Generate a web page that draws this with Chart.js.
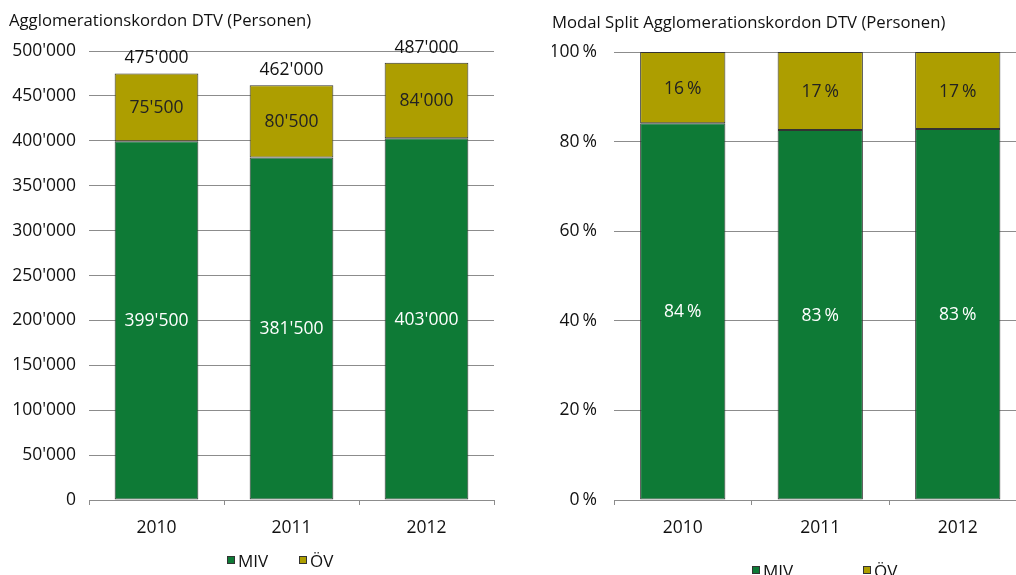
<!DOCTYPE html>
<html><head><meta charset="utf-8">
<script src="https://cdn.jsdelivr.net/npm/chart.js@4.4.1/dist/chart.umd.min.js"></script>
<style>
html,body{margin:0;padding:0;background:#fff;overflow:hidden;width:1016px;height:575px;position:relative;}
#c1{position:absolute;left:0;top:0;}
#c2{position:absolute;left:540px;top:0;}
</style></head><body>
<canvas id="c1" width="540" height="575"></canvas>
<canvas id="c2" width="560" height="575"></canvas>
<script>
// ---- data ----
const years = ['2010', '2011', '2012'];
const seriesNames = ['MIV', 'ÖV'];
const mivPersons = [399500, 381500, 403000];
const oevPersons = [75500, 80500, 84000];
const totalPersons = [475000, 462000, 487000];
const mivShare = [84.1, 82.6, 82.8];
const oevShare = [15.9, 17.4, 17.2];
const mivShareText = ['84', '83', '83'];
const oevShareText = ['16', '17', '17'];
const personTicks = [0, 50000, 100000, 150000, 200000, 250000, 300000, 350000, 400000, 450000, 500000];
const shareTicks = [0, 20, 40, 60, 80, 100];

// ---- styles ----
const FONT = "'Open Sans', 'Noto Sans', sans-serif";
const GREEN = '#0e7a36';
const OLIVE = '#ad9e00';
const EDGE = '#333333';
const GRID = '#8c8c8c';

function fmtThousands(v) {
  const s = String(Math.round(v));
  return s.replace(/\B(?=(\d{3})+(?!\d))/g, "'");
}
const pct = t => t + '\u2009%';

const valueLabels = {
  id: 'valueLabels',
  afterDatasetsDraw(chart, args, opts) {
    const ctx = chart.ctx;
    ctx.save();
    ctx.font = opts.size + 'px ' + FONT;
    ctx.textAlign = 'center';
    ctx.textBaseline = 'middle';
    chart.data.datasets.forEach((ds, di) => {
      const meta = chart.getDatasetMeta(di);
      meta.data.forEach((bar, i) => {
        ctx.fillStyle = ds.labelColor;
        ctx.fillText(ds.labelTexts[i], bar.x, (bar.y + bar.base) / 2 + (opts.dy || 0));
      });
    });
    if (opts.totals) {
      const last = chart.getDatasetMeta(chart.data.datasets.length - 1);
      ctx.fillStyle = '#111';
      last.data.forEach((bar, i) => {
        ctx.fillText(opts.totals[i], bar.x, bar.y - opts.totalOffset);
      });
    }
    ctx.restore();
  }
};

const boxLegend = {
  id: 'boxLegend',
  afterDraw(chart, args, opts) {
    const ctx = chart.ctx;
    ctx.save();
    ctx.font = opts.size + 'px ' + FONT;
    ctx.textAlign = 'left';
    ctx.textBaseline = 'middle';
    chart.data.datasets.forEach((ds, i) => {
      const x = opts.x[i], y = opts.y;
      ctx.fillStyle = ds.backgroundColor;
      ctx.fillRect(x, y - opts.box / 2, opts.box, opts.box);
      ctx.strokeStyle = EDGE;
      ctx.lineWidth = 1;
      ctx.strokeRect(x + 0.5, y - opts.box / 2 + 0.5, opts.box - 1, opts.box - 1);
      ctx.fillStyle = '#111';
      ctx.fillText(ds.label, x + opts.box + 3, y + 2);
    });
    ctx.restore();
  }
};

function baseOptions(cfg) {
  return {
    responsive: false,
    animation: false,
    devicePixelRatio: 1,
    layout: { padding: cfg.padding },
    plugins: {
      legend: { display: false },
      tooltip: { enabled: false },
      title: {
        display: true, text: cfg.title, align: 'start', color: '#111',
        font: { family: FONT, size: 16.7, weight: 'normal' },
        padding: cfg.titlePadding
      },
      valueLabels: cfg.valueLabels,
      boxLegend: cfg.legend
    },
    scales: {
      x: {
        stacked: true,
        afterFit: s => { s.height = 40; },
        grid: { offset: true, drawOnChartArea: false, drawTicks: true, tickLength: 5, color: GRID },
        border: { display: true, color: GRID },
        ticks: { color: '#111', padding: 13, font: { family: FONT, size: 17.5 } }
      },
      y: {
        stacked: true,
        min: 0, max: cfg.max,
        afterFit: s => { s.width = cfg.yWidth; },
        afterBuildTicks: s => { s.ticks = cfg.ticks.map(v => ({ value: v })); },
        grid: { drawTicks: false, color: GRID },
        border: { display: false },
        ticks: { color: '#111', padding: cfg.tickPad, font: { family: FONT, size: 17.5 }, callback: cfg.fmt }
      }
    }
  };
}

function barSet(label, data, color, texts, textColor) {
  return {
    label, data, backgroundColor: color, borderColor: EDGE, borderWidth: 1,
    borderSkipped: false, barPercentage: 0.62, categoryPercentage: 1,
    labelTexts: texts, labelColor: textColor
  };
}

new Chart(document.getElementById('c1'), {
  type: 'bar',
  data: {
    labels: years,
    datasets: [
      barSet(seriesNames[0], mivPersons, GREEN, mivPersons.map(fmtThousands), '#ffffff'),
      barSet(seriesNames[1], oevPersons, OLIVE, oevPersons.map(fmtThousands), '#222222')
    ]
  },
  options: baseOptions({
    title: 'Agglomerationskordon DTV (Personen)',
    padding: { left: 9, right: 46, top: 0, bottom: 35 },
    titlePadding: { top: 10.8, bottom: 20.2 },
    max: 500000, ticks: personTicks, yWidth: 80, tickPad: 13,
    fmt: v => fmtThousands(v),
    valueLabels: { size: 17.5, totals: totalPersons.map(fmtThousands), totalOffset: 15, dy: 1 },
    legend: { size: 17, x: [227, 299], y: 560, box: 8 }
  }),
  plugins: [valueLabels, boxLegend]
});

new Chart(document.getElementById('c2'), {
  type: 'bar',
  data: {
    labels: years,
    datasets: [
      barSet(seriesNames[0], mivShare, GREEN, mivShareText.map(pct), '#ffffff'),
      barSet(seriesNames[1], oevShare, OLIVE, oevShareText.map(pct), '#222222')
    ]
  },
  options: baseOptions({
    title: 'Modal Split Agglomerationskordon DTV (Personen)',
    padding: { left: 12, right: 73.5, top: 0, bottom: 35 },
    titlePadding: { top: 12.8, bottom: 19.2 },
    max: 100, ticks: shareTicks, yWidth: 62, tickPad: 17,
    fmt: v => pct(v),
    valueLabels: { size: 17.5, dy: 1 },
    legend: { size: 17, x: [212, 323], y: 570, box: 8 }
  }),
  plugins: [valueLabels, boxLegend]
});
</script>
</body></html>
